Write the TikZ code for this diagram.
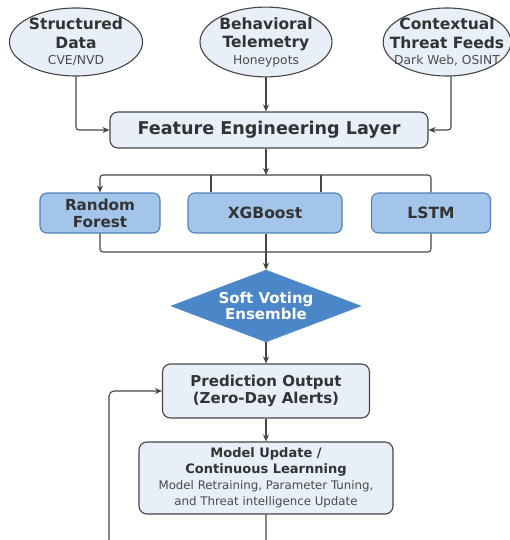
\documentclass[tikz,border=0pt]{standalone}
\usepackage{fontspec}
\setmainfont{DejaVu Sans}
\usepackage{xcolor}
\usepackage{tikz}
\usetikzlibrary{shapes.geometric,arrows.meta}

\definecolor{inkgray}{HTML}{333333}
\definecolor{subgray}{HTML}{4A4A4A}
\definecolor{linegray}{HTML}{454545}
\definecolor{palefill}{HTML}{E8EFF9}
\definecolor{modelfill}{HTML}{A3C5EA}
\definecolor{modeledge}{HTML}{4F80B8}
\definecolor{votefill}{HTML}{4A86C8}

\newcommand{\fsz}[2]{\fontsize{#1}{#2}\selectfont}
\newcommand{\subline}[1]{{\fsz{12.3}{14}\mdseries\color{subgray}#1}}

\begin{document}
\begin{tikzpicture}[x=1pt,y=-1pt,
    >={Stealth[length=7pt,width=6pt]},
    every node/.style={text=inkgray},
    source/.style={ellipse,draw=linegray,line width=1.1pt,fill=palefill,
      minimum width=132,minimum height=68,inner sep=0pt,align=center,
      font=\fsz{15.5}{18.5}\bfseries},
    layerbox/.style={rectangle,rounded corners=8pt,draw=linegray,line width=1.1pt,
      fill=palefill,align=center,inner sep=0pt},
    modelbox/.style={rectangle,rounded corners=7pt,draw=modeledge,line width=1.1pt,
      fill=modelfill,align=center,inner sep=0pt,minimum height=40,
      font=\fsz{15.5}{16.5}\bfseries},
    vote/.style={diamond,draw=votefill,fill=votefill,inner sep=0pt,
      minimum width=190,minimum height=72,aspect=2.64,align=center,
      text=white,font=\fsz{15}{16.5}\bfseries},
    link/.style={draw=linegray,line width=1.1pt}]
  \useasboundingbox (0,0) rectangle (509,540);

  % data sources
  \node[source] (sd) at (76,42) {Structured\\Data\\[-2pt]\subline{CVE/NVD}};
  \node[source] (bt) at (266,42) {Behavioral\\Telemetry\\[-2pt]\subline{Honeypots}};
  \node[source,minimum width=124,inner sep=-12pt] (ct) at (447,42) {Contextual\\Threat Feeds\\[-2pt]\subline{Dark Web, OSINT}};

  % feature layer
  \node[layerbox,minimum width=318,minimum height=36,font=\fsz{17.6}{20}\bfseries] (fel) at (269,130) {Feature Engineering Layer};

  % models
  \node[modelbox,minimum width=120,font=\fsz{15.2}{17}\bfseries] (rf) at (100,213) {Random\\Forest};
  \node[modelbox,minimum width=154] (xg) at (265,213) {XGBoost};
  \node[modelbox,minimum width=119] (lstm) at (431,213) {LSTM};

  % ensemble
  \node[vote] (sve) at (266,306) {Soft Voting\\Ensemble};

  % output and update
  \node[layerbox,minimum width=207,minimum height=54,font=\fsz{15}{17}\bfseries] (po) at (266,391) {Prediction Output\\(Zero-Day Alerts)};
  \node[layerbox,minimum width=254,minimum height=72,font=\fsz{13}{15.5}\bfseries] (mu) at (266,478) {Model Update /\\Continuous Learnning\\[1pt]{\fsz{11.8}{13.5}\mdseries\color{subgray}Model Retraining, Parameter Tuning,}\\{\fsz{11.8}{13.5}\mdseries\color{subgray}and Threat intelligence Update}};

  \coordinate (topbus) at (266,175);
  \coordinate (botbus) at (266,252);
  \coordinate (xl) at (211,175);
  \coordinate (xr) at (321,175);
  \coordinate (ctdrop) at (451,76);
  \coordinate (loopend) at (266,560);
  \coordinate (loopcorner) at (109,560);

  % connectors
  \draw[link,->,rounded corners=3pt] (sd.south) |- (fel.west);
  \draw[link,->] (bt.south) -- (bt.south |- fel.north);
  \draw[link,->,rounded corners=3pt] (ctdrop) |- (fel.east);
  \draw[link,->] (topbus |- fel.south) -- (topbus);
  \draw[link,->,rounded corners=3pt] (topbus) -| (rf.north);
  \draw[link,rounded corners=3pt] (topbus) -| (lstm.north);
  \draw[link] (xl) -- (xl |- xg.north);
  \draw[link] (xr) -- (xr |- xg.north);
  \draw[link,rounded corners=3pt] (rf.south) |- (botbus) -| (lstm.south);
  \draw[link,->] (xg.south -| sve.north) -- (sve.north);
  \draw[link,->] (sve.south) -- (po.north);
  \draw[link,->] (po.south) -- (mu.north);
  \draw[link,->,rounded corners=5pt] (mu.south) -- (loopend) -- (loopcorner) |- (po.west);
\end{tikzpicture}
\end{document}
